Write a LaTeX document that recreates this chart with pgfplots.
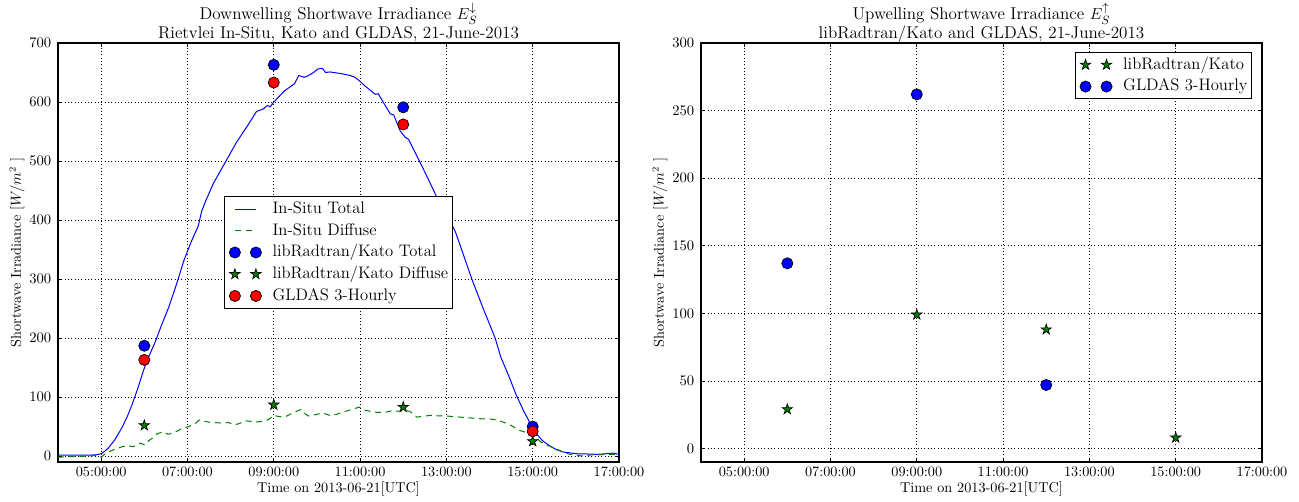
\documentclass[border=0pt]{standalone}
\usepackage{pgfplots}
\pgfplotsset{compat=1.18}
\usetikzlibrary{plotmarks}
\definecolor{mplgreen}{rgb}{0,0.5,0}
\definecolor{mplblue}{rgb}{0,0,1}
\definecolor{mplred}{rgb}{1,0,0}

\pgfdeclareplotmark{fstar}{%
  \pgfpathmoveto{\pgfpointpolar{90}{\pgfplotmarksize}}%
  \pgfpathlineto{\pgfpointpolar{126}{0.382\pgfplotmarksize}}%
  \pgfpathlineto{\pgfpointpolar{162}{\pgfplotmarksize}}%
  \pgfpathlineto{\pgfpointpolar{198}{0.382\pgfplotmarksize}}%
  \pgfpathlineto{\pgfpointpolar{234}{\pgfplotmarksize}}%
  \pgfpathlineto{\pgfpointpolar{270}{0.382\pgfplotmarksize}}%
  \pgfpathlineto{\pgfpointpolar{306}{\pgfplotmarksize}}%
  \pgfpathlineto{\pgfpointpolar{342}{0.382\pgfplotmarksize}}%
  \pgfpathlineto{\pgfpointpolar{18}{\pgfplotmarksize}}%
  \pgfpathlineto{\pgfpointpolar{54}{0.382\pgfplotmarksize}}%
  \pgfpathclose
  \pgfusepathqfillstroke
}

\pgfplotsset{
  linelegend/.style={legend image code/.code={%
    \path[draw=none,fill=none] (-4.5pt,-4.5pt) rectangle (20.25pt,4.5pt);
    \draw[##1] (0pt,0pt) -- (15.75pt,0pt);}},
  marklegend/.style={legend image code/.code={%
    \path[draw=none,fill=none] (-4.5pt,-4.5pt) rectangle (20.25pt,4.5pt);
    \draw[##1] plot[only marks] coordinates {(0pt,0pt) (15.75pt,0pt)};}},
  mplaxis/.style={
    scale only axis, width=420.75pt, height=314.25pt,
    xmin=4, xmax=17,
    xtick={5,7,9,11,13,15,17},
    xticklabels={05:00:00,07:00:00,09:00:00,11:00:00,13:00:00,15:00:00,17:00:00},
    tick label style={font=\fontsize{10.7}{12}\selectfont},
    yticklabel style={xshift=-1.5pt},
    label style={font=\fontsize{10.7}{12}\selectfont},
    xlabel={Time on 2013-06-21[UTC]},
    ylabel={Shortwave Irradiance [$W/m^2$ ]},
    xlabel style={at={(axis description cs:0.5,0)}, anchor=center, yshift=-20.5pt},
    ylabel style={at={(axis description cs:-0.0731,0.5)}, anchor=center, rotate=0},
    every axis title/.style={at={(0.5,1)}, anchor=south, inner sep=0pt, align=center,
                 font=\fontsize{12.8}{14}\selectfont},
    axis line style={black, line width=0.8pt},
    major tick length=3pt,
    tick style={black, line width=0.6pt},
    minor tick num=0,
    grid=major,
    grid style={black, line width=0.5pt, dash pattern=on 0.75pt off 1.75pt},
    legend cell align=left,
    legend style={draw=black, line width=0.75pt, fill=white,
      font=\fontsize{12.5}{15}\selectfont,
      inner sep=3pt, row sep=3.8pt, column sep=8pt,
      nodes={inner sep=0pt, text height=9.5pt, text depth=3pt}},
  },
  circ/.style={only marks, mark=*, mark size=4.2pt,
    mark options={draw=black, line width=0.5pt, fill=#1}, marklegend},
  stars/.style={only marks, mark=fstar, mark size=4.1pt,
    mark options={draw=black, line width=0.5pt, fill=mplgreen}, marklegend},
}

\begin{document}
\begin{tikzpicture}
\useasboundingbox (0,0) rectangle (974.25pt,375.75pt);

% ---------------- left panel ----------------
\begin{axis}[mplaxis,
  at={(43.5pt,29.25pt)}, anchor=south west,
  ymin=-10, ymax=700, ytick={0,100,...,700},
  title={Downwelling Shortwave Irradiance $E_S^{\downarrow}$\\Rietvlei In-Situ, Kato and GLDAS, 21-June-2013},
  title style={yshift=0.9pt},
  legend style={at={(0.5,0.5)}, anchor=center},
]
\addplot[color=mplblue, line width=0.75pt, linelegend] coordinates {
(4.00,1.5) (4.30,1.5) (4.60,1.5) (4.87,2) (5.00,4) (5.08,8) (5.17,14)
(5.32,28) (5.48,48) (5.60,66) (5.72,88) (5.85,115) (5.98,145) (6.10,168)
(6.25,193) (6.40,222) (6.57,253) (6.75,292) (6.92,332) (7.08,362) (7.25,390)
(7.33,415) (7.42,432) (7.60,462) (7.87,497) (8.13,531) (8.42,563) (8.60,584)
(8.75,588) (8.85,594) (8.92,592) (9.00,600) (9.25,619) (9.48,631) (9.58,645)
(9.70,642) (9.78,644) (9.92,650) (10.02,656) (10.13,657) (10.20,650) (10.30,651)
(10.57,648) (10.77,645) (10.88,642) (11.00,635) (11.10,628) (11.27,618) (11.35,613)
(11.42,614) (11.55,598) (11.70,580) (11.78,578) (11.93,551) (12.05,540) (12.12,537)
(12.32,508) (12.55,474) (12.75,443) (13.00,410) (13.21,380) (13.40,340) (13.60,298)
(13.87,247) (14.13,200) (14.26,168) (14.45,135) (14.61,105) (14.80,75) (15.00,48)
(15.12,35) (15.23,26) (15.40,17) (15.55,11) (15.70,7) (16.02,4) (16.30,3.5)
(16.50,3) (16.70,4) (16.87,5) (17.00,3)
};
\addlegendentry{In-Situ Total}
\addplot[color=mplgreen, line width=0.75pt, dash pattern=on 4.5pt off 3.5pt, linelegend] coordinates {
(4.00,-2) (4.20,-1) (4.42,-1) (4.65,0) (4.92,1) (5.00,-2) (5.08,3) (5.17,7)
(5.30,11) (5.45,15) (5.59,18) (5.75,16) (5.90,22) (6.01,19) (6.10,26) (6.18,30)
(6.30,38) (6.43,41) (6.55,37) (6.68,39) (6.85,46) (7.02,50) (7.15,53) (7.27,61)
(7.45,58) (7.61,57) (7.78,56) (7.95,57) (8.08,53) (8.20,55) (8.33,60) (8.45,59)
(8.62,58) (8.79,59) (8.90,63) (9.00,69) (9.12,67) (9.25,66) (9.38,71) (9.50,75)
(9.63,79) (9.72,72) (9.80,68) (9.95,70) (10.13,73) (10.30,69) (10.47,71) (10.60,75)
(10.72,77) (10.85,80) (10.98,83) (11.10,78) (11.23,76) (11.40,74) (11.57,74) (11.75,77)
(11.90,76) (12.05,77) (12.15,76) (12.25,70) (12.32,66) (12.50,68) (12.66,69) (12.85,68)
(13.00,68) (13.15,67) (13.33,66) (13.50,65) (13.67,64) (13.85,63) (14.01,63) (14.18,61)
(14.34,57) (14.50,52) (14.68,44) (14.85,40) (15.00,37) (15.10,30) (15.19,24) (15.35,18)
(15.52,13) (15.70,7) (15.86,3) (16.03,1) (16.20,0) (16.35,2) (16.53,2) (16.70,3)
(16.87,3) (17.00,0)
};
\addlegendentry{In-Situ Diffuse}
\addplot[circ=mplblue] coordinates {(6,187) (9,663) (12,591) (15,50)};
\addlegendentry{libRadtran/Kato Total}
\addplot[stars] coordinates {(6,52) (9,87) (12,83) (15,25)};
\addlegendentry{libRadtran/Kato Diffuse}
\addplot[circ=mplred] coordinates {(6,163) (9,633) (12,562) (15,42)};
\addlegendentry{GLDAS 3-Hourly}
\end{axis}

% ---------------- right panel ----------------
\begin{axis}[mplaxis,
  at={(525.75pt,29.25pt)}, anchor=south west,
  ymin=-10, ymax=300, ytick={0,50,...,300},
  title={Upwelling Shortwave Irradiance $E_S^{\uparrow}$\\libRadtran/Kato and GLDAS, 21-June-2013},
  title style={yshift=0.2pt},
  legend style={at={(0.9822,0.9785)}, anchor=north east},
]
\addplot[stars] coordinates {(6,29) (9,99) (12,88) (15,8)};
\addlegendentry{libRadtran/Kato}
\addplot[circ=mplblue] coordinates {(6,137) (9,262) (12,47)};
\addlegendentry{GLDAS 3-Hourly}
\end{axis}
\end{tikzpicture}
\end{document}
